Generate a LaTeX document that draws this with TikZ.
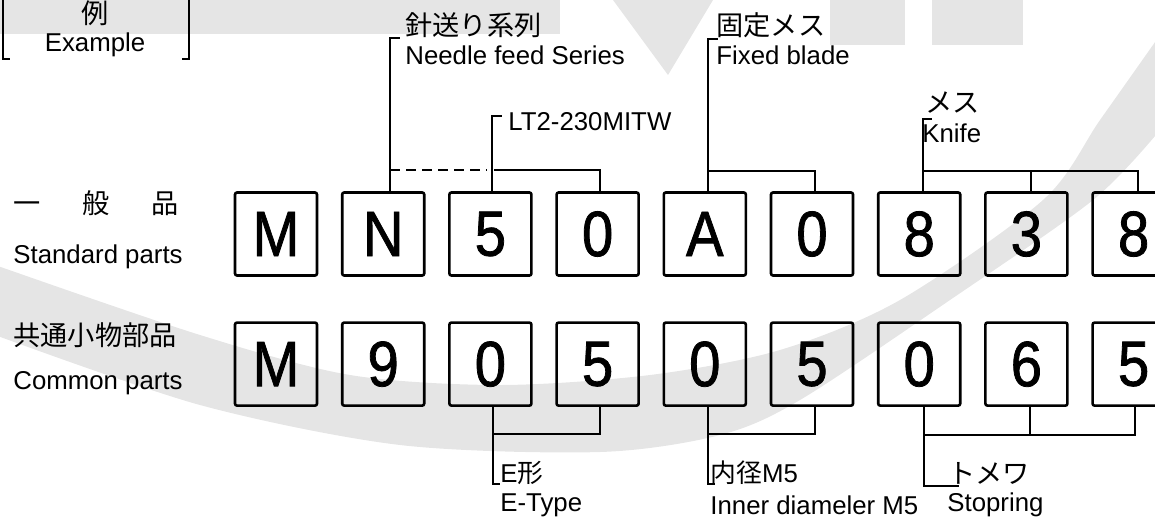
\documentclass[tikz,border=0pt]{standalone}
\usepackage{fontspec}
\setmainfont{Liberation Sans}
\newfontfamily\jpfont{Noto Sans CJK JP}
\newfontfamily\digitfont{Liberation Sans}[FakeStretch=0.88,FakeBold=1.2]
\usepackage{xcolor}
\usepackage{tikz}
\usetikzlibrary{positioning,backgrounds}

\definecolor{wmgray}{gray}{0.9}

\begin{document}
\begin{tikzpicture}[
  x=0.5pt, y=-0.5pt,
  node distance=11.3pt and 11.3pt,
  digit/.style={
    rectangle, rounded corners=1pt, draw=black, line width=1.3pt,
    minimum width=41pt, minimum height=41.5pt, inner sep=0pt,
    font=\digitfont\fontsize{32pt}{32pt}\selectfont},
  conn/.style={line width=1pt, draw=black},
  dconn/.style={conn, dash pattern=on 5pt off 3pt},
  lbl/.style={inner sep=0pt, anchor=west, font=\fontsize{12.9pt}{15pt}\selectfont},
  jlbl/.style={lbl, font=\fontsize{13.6pt}{15pt}\selectfont\jpfont},
]
\useasboundingbox (0,0) rectangle (1155,520);

% ---- Example bracket ----
\node[jlbl, anchor=center] (exjp) at (95,13) {例};
\node[lbl, anchor=center] (ex) at (95,45) {Example};
\draw[conn] (3,-10) -- (3,59) -- (10,59);
\draw[conn] (189,-10) -- (189,59) -- (182,59);

% ---- Row titles ----
\node[jlbl] (stdjp) at (13,203) {\makebox[82.5pt][s]{一\hfil 般\hfil 品}};
\node[lbl] (std) at (13,257) {Standard parts};
\node[jlbl] (comjp) at (13,335) {共通小物部品};
\node[lbl] (com) at (13,383) {Common parts};

% ---- Standard parts (top row) ----
\node[digit] (b0) at (276,234) {M};
\node[digit, right=of b0] (b1) {N};
\node[digit, right=of b1] (b2) {5};
\node[digit, right=of b2] (b3) {0};
\node[digit, right=of b3] (b4) {A};
\node[digit, right=of b4] (b5) {0};
\node[digit, right=of b5] (b6) {8};
\node[digit, right=of b6] (b7) {3};
\node[digit, right=of b7] (b8) {8};

% ---- Common parts (bottom row) ----
\node[digit, below=22.25pt of b0] (c0) {M};
\node[digit, right=of c0] (c1) {9};
\node[digit, right=of c1] (c2) {0};
\node[digit, right=of c2] (c3) {5};
\node[digit, right=of c3] (c4) {0};
\node[digit, right=of c4] (c5) {5};
\node[digit, right=of c5] (c6) {0};
\node[digit, right=of c6] (c7) {6};
\node[digit, right=of c7] (c8) {5};

% ---- Top labels ----
\node[jlbl] (needlejp) at (405,25) {針送り系列};
\node[lbl] (needle) at (405,55) {Needle feed Series};
\node[lbl] (lt) at (508,122) {LT2-230MITW};
\node[jlbl] (fixedjp) at (716,25) {固定メス};
\node[lbl] (fixed) at (716,55) {Fixed blade};
\node[jlbl] (knifejp) at (925,103) {メス};
\node[lbl] (knife) at (922,133) {Knife};

% ---- Bottom labels ----
\node[lbl] (etypejp) at (500,473) {E{\jpfont 形}};
\node[lbl] (etype) at (500,505) {E-Type};
\node[lbl] (innerjp) at (710,473) {{\jpfont 内径}M5};
\node[lbl] (inner) at (710,505) {Inner diameler M5};
\node[jlbl] (stopjp) at (948,473) {トメワ};
\node[lbl] (stop) at (947,505) {Stopring};

% ---- Top brackets ----
\draw[conn] ([xshift=3.5pt]b1.north) -- ++(0,-153.5) -- ++(10,0);
\draw[dconn] ([xshift=3.5pt]b1.north) ++(0,-21.5) -- ++(97,0);
\draw[conn] ([xshift=1pt]b3.north) -- ++(0,-21.5) -- ++(-106,0);
\draw[conn] ([xshift=1pt]b2.north) -- ++(0,-75.5) -- ++(10,0);
\draw[conn] ([xshift=1.5pt]b4.north) -- ++(0,-152.5) -- ++(10,0);
\draw[conn] ([xshift=1.5pt]b4.north) ++(0,-20.5) -| ([xshift=1.5pt]b5.north);
\draw[conn] ([xshift=2pt]b6.north) -- ++(0,-72.5) -- ++(9,0);
\draw[conn] ([xshift=2pt]b6.north) ++(0,-20.5) -| ([xshift=2pt]b8.north);
\draw[conn] ([xshift=2.5pt]b7.north) -- ++(0,-20.5);

% ---- Bottom brackets ----
\draw[conn] ([xshift=1.5pt]c2.south) -- ++(0,77) -- ++(7,0);
\draw[conn] ([xshift=1.5pt]c2.south) ++(0,27) -| ([xshift=1pt]c3.south);
\draw[conn] ([xshift=1.5pt]c4.south) -- ++(0,77) -- ++(7,0);
\draw[conn] ([xshift=1.5pt]c4.south) ++(0,27) -| ([xshift=1.5pt]c5.south);
\draw[conn] ([xshift=2.5pt]c6.south) -- ++(0,79) -- ++(35,0);
\draw[conn] ([xshift=2.5pt]c6.south) ++(0,28) -| ([xshift=0.5pt]c8.south);
\draw[conn] ([xshift=2pt]c7.south) -- ++(0,28);

% ---- Watermark ----
\begin{scope}[on background layer]
  \fill[wmgray] (0,0) rectangle (560,34);
  \fill[wmgray] (613,0) -- (713,0) -- (668,75) -- cycle;
  \fill[wmgray] (830,0) rectangle (905,45);
  \fill[wmgray] (932,0) rectangle (1023,45);
  \fill[wmgray] plot[smooth] coordinates {(-5,335) (200,405) (400,445) (600,452)
      (720,435) (800,400) (950,300) (1093,200) (1160,130)}
    -- plot[smooth] coordinates {(1160,35) (1100,120) (1043,200) (900,300)
      (780,350) (650,375) (500,385) (350,375) (200,335) (-5,265)} -- cycle;
\end{scope}

\end{tikzpicture}
\end{document}
